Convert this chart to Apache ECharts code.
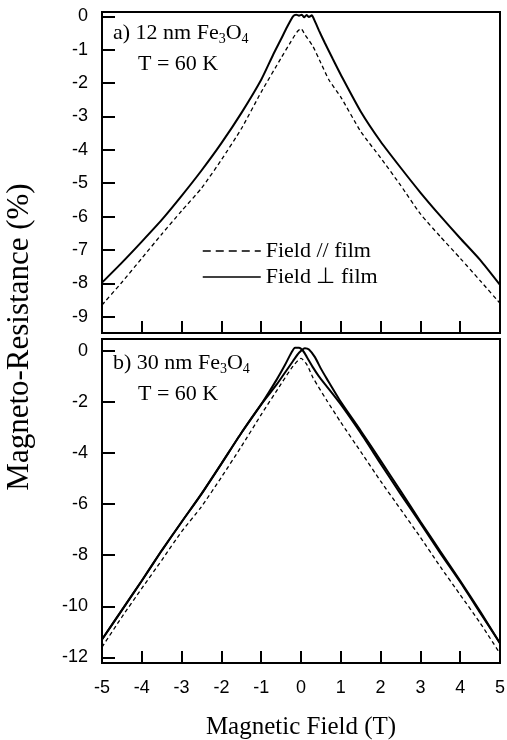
<!DOCTYPE html>
<html><head><meta charset="utf-8">
<script src="https://cdn.jsdelivr.net/npm/echarts@6/dist/echarts.min.js"></script>
<style>html,body{margin:0;padding:0;background:#fff}#c{width:507px;height:740px}</style>
</head><body><div id="c"></div>
<script>
// ---- tick labels ----
const fieldTicks = [-5,-4,-3,-2,-1,0,1,2,3,4,5];
const mrTicksA = [0,-1,-2,-3,-4,-5,-6,-7,-8,-9];
const mrTicksB = [0,-2,-4,-6,-8,-10,-12];

// ---- panel a) 12 nm Fe3O4, T = 60 K ----
const aParField = [-5,-4.5,-4,-3.5,-3,-2.5,-2,-1.5,-1,-0.5,-0.25,-0.1,0,0.1,0.3,0.5,0.7,1,1.5,2,2.5,3,3.5,4,4.5,5];
const aParMR    = [-8.65,-7.97,-7.25,-6.53,-5.83,-5.15,-4.3,-3.37,-2.27,-1.25,-0.75,-0.47,-0.37,-0.55,-0.9,-1.4,-1.9,-2.42,-3.45,-4.24,-5.06,-5.92,-6.6,-7.25,-7.92,-8.6];
const aPerpField = [-5,-4.5,-4,-3.5,-3,-2.5,-2,-1.5,-1,-0.7,-0.5,-0.35,-0.2,-0.12,-0.05,0.02,0.08,0.14,0.2,0.27,0.35,0.45,0.6,0.8,1,1.5,2,2.5,3,3.5,4,4.5,5];
const aPerpMR    = [-7.98,-7.38,-6.75,-6.1,-5.38,-4.62,-3.8,-2.9,-1.9,-1.15,-0.68,-0.32,0.0,0.05,0.02,0.05,-0.03,0.04,-0.02,0.03,-0.15,-0.42,-0.8,-1.28,-1.75,-2.85,-3.75,-4.53,-5.28,-5.98,-6.65,-7.3,-8.05];

// ---- panel b) 30 nm Fe3O4, T = 60 K ----
const bParField = [-5,-4.5,-4,-3.5,-3,-2.5,-2,-1.5,-1,-0.5,-0.2,0,0.15,0.3,0.65,1,1.5,2,2.5,3,3.5,4,4.5,5];
const bParMR    = [-11.6,-10.42,-9.3,-8.2,-7.08,-6.1,-4.95,-3.75,-2.5,-1.3,-0.6,-0.3,-0.55,-1.05,-1.95,-2.8,-3.95,-5.1,-6.2,-7.3,-8.45,-9.55,-10.65,-11.85];
const bPerpAField = [-5,-4.5,-4,-3.5,-3,-2.5,-2,-1.5,-1,-0.6,-0.4,-0.25,-0.15,-0.05,0.05,0.15,0.3,0.45,0.65,1,1.5,2,2.5,3,3.5,4,4.5,5];
const bPerpAMR    = [-11.3,-10.15,-9.0,-7.82,-6.7,-5.6,-4.42,-3.22,-2.1,-1.1,-0.55,-0.1,0.12,0.12,0.0,-0.25,-0.65,-1.0,-1.4,-2.1,-3.22,-4.42,-5.6,-6.75,-7.92,-9.05,-10.25,-11.45];
const bPerpBField = [-5,-4.5,-4,-3.5,-3,-2.5,-2,-1.5,-1,-0.6,-0.4,-0.2,-0.05,0.1,0.2,0.35,0.5,0.65,1,1.5,2,2.5,3,3.5,4,4.5,5];
const bPerpBMR    = [-11.3,-10.15,-9.0,-7.82,-6.7,-5.6,-4.42,-3.22,-2.1,-1.3,-0.85,-0.4,-0.08,0.1,0.05,-0.25,-0.7,-1.1,-2.0,-3.13,-4.3,-5.48,-6.68,-7.85,-9.0,-10.2,-11.45];

const PAR = 'Field // film';
const PERP = 'Field \u22A5 film';
const zip = (xs, ys) => xs.map((x, i) => [x, ys[i]]);
const SANS = '"Liberation Sans", Arial, sans-serif';
const SERIF = '"Liberation Serif", "Times New Roman", serif';

const chart = echarts.init(document.getElementById('c'), null, {renderer: 'canvas'});

function xAxis(gridIndex, showLabels) {
  return {
    type: 'value', gridIndex, min: -5, max: 5, interval: 1,
    axisLine: {show: true, onZero: false, lineStyle: {color: '#000', width: 2}},
    axisTick: {show: true, inside: true, length: 12, lineStyle: {color: '#000', width: 2}, customValues: fieldTicks},
    axisLabel: {show: showLabels, customValues: fieldTicks, margin: 16, color: '#000', fontFamily: SANS, fontSize: 18},
    splitLine: {show: false},
    name: showLabels ? 'Magnetic Field (T)' : '',
    nameLocation: 'middle', nameGap: 52,
    nameTextStyle: {fontFamily: SERIF, fontSize: 25, color: '#000'}
  };
}
function yAxis(gridIndex, min, max, ticks) {
  return {
    type: 'value', gridIndex, min, max,
    axisLine: {show: true, onZero: false, lineStyle: {color: '#000', width: 2}},
    axisTick: {show: true, inside: true, length: 13, lineStyle: {color: '#000', width: 2}, customValues: ticks},
    axisLabel: {show: true, customValues: ticks, margin: 14, color: '#000', fontFamily: SANS, fontSize: 18},
    splitLine: {show: false}
  };
}
const dashStyle = {color: '#000', width: 1.3, type: [4, 3]};
const solidStyle = {color: '#000', width: 2};
function line(name, data, xi, style) {
  return {type: 'line', name, data, xAxisIndex: xi, yAxisIndex: xi, symbol: 'none', showSymbol: false,
    itemStyle: {color: '#000'}, lineStyle: style, smooth: 0.2, animation: false, z: 3};
}

const rich = {
  m: {fontFamily: SERIF, fontSize: 22, lineHeight: 24, verticalAlign: 'top', fill: '#000'},
  s: {fontFamily: SERIF, fontSize: 14, lineHeight: 6, verticalAlign: 'bottom', fill: '#000'}
};

chart.setOption({
  animation: false,
  backgroundColor: '#fff',
  grid: [
    {left: 102, top: 12, width: 398, height: 321, outerBoundsMode: 'none', containLabel: false, show: true, borderColor: '#000', borderWidth: 2, backgroundColor: 'transparent'},
    {left: 102, top: 339, width: 398, height: 324, outerBoundsMode: 'none', containLabel: false, show: true, borderColor: '#000', borderWidth: 2, backgroundColor: 'transparent'}
  ],
  xAxis: [xAxis(0, false), xAxis(1, true)],
  yAxis: [yAxis(0, -9.49, 0.13, mrTicksA), yAxis(1, -12.22, 0.46, mrTicksB)],
  legend: {
    left: 197, top: 235, orient: 'vertical', itemWidth: 58, itemHeight: 14, itemGap: 4,
    itemStyle: {opacity: 0, borderWidth: 0},
    textStyle: {fontFamily: SERIF, fontSize: 22, color: '#000', lineHeight: 20},
    data: [
      {name: PAR, itemStyle: {opacity: 0, borderWidth: 0}, lineStyle: {type: [8, 5], width: 1.3, color: '#000'}},
      {name: PERP, itemStyle: {opacity: 0, borderWidth: 0}, lineStyle: {type: 'solid', width: 1.5, color: '#000'}}
    ]
  },
  series: [
    line(PAR, zip(aParField, aParMR), 0, dashStyle),
    line(PERP, zip(aPerpField, aPerpMR), 0, solidStyle),
    line(PAR, zip(bParField, bParMR), 1, dashStyle),
    line(PERP, zip(bPerpAField, bPerpAMR), 1, solidStyle),
    line(PERP, zip(bPerpBField, bPerpBMR), 1, solidStyle)
  ],
  graphic: [
    {type: 'text', x: 20, y: 337, rotation: Math.PI / 2,
      style: {text: 'Magneto-Resistance (%)', fontFamily: SERIF, fontSize: 31, fill: '#000', align: 'center', verticalAlign: 'middle'}},
    {type: 'text', x: 113, y: 22, style: {text: '{m|a) 12 nm Fe}{s|3}{m|O}{s|4}', rich}},
    {type: 'text', x: 138, y: 53, style: {text: '{m|T = 60 K}', rich}},
    {type: 'text', x: 113, y: 352, style: {text: '{m|b) 30 nm Fe}{s|3}{m|O}{s|4}', rich}},
    {type: 'text', x: 138, y: 383, style: {text: '{m|T = 60 K}', rich}}
  ]
});
</script>
</body></html>
